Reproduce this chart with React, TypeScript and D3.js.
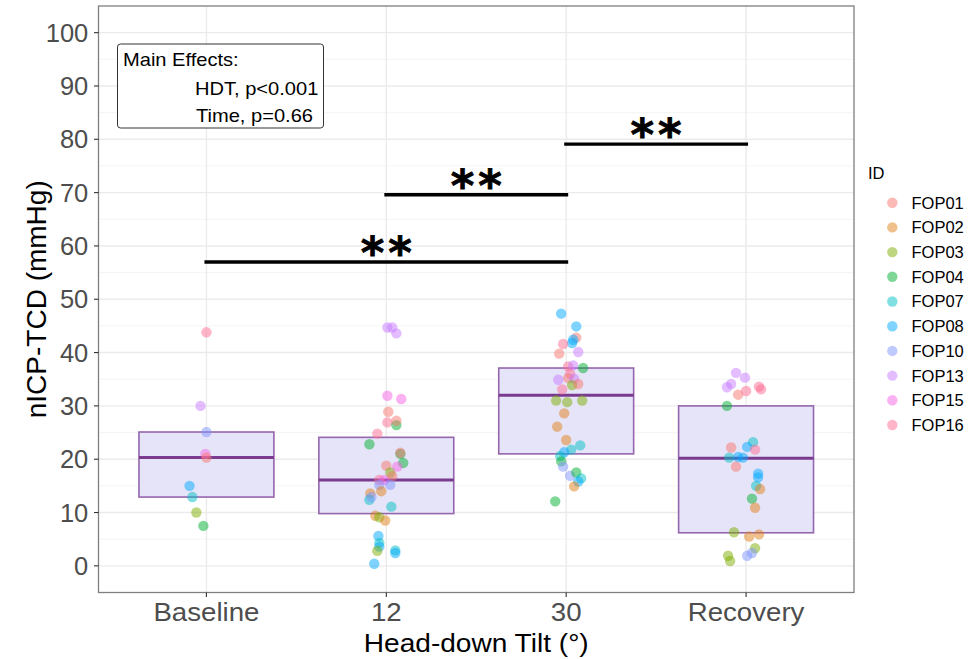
import React from 'react';
import * as d3 from 'd3';

// ---- data ----
const categories = ['Baseline', '12', '30', 'Recovery'];
const subjectIds = ['FOP01', 'FOP02', 'FOP03', 'FOP04', 'FOP07', 'FOP08', 'FOP10', 'FOP13', 'FOP15', 'FOP16'];
const subjectColors = ['#F8766D', '#E0801A', '#7CAE00', '#00B030', '#00BFC4', '#00A9FF', '#7F96FF', '#C77CFF', '#F564E3', '#FF6C91'];

const boxLower = [12.9, 9.8, 21.0, 6.2];
const boxMedian = [20.3, 16.1, 32.0, 20.2];
const boxUpper = [25.1, 24.1, 37.1, 30.0];

const yTicks = [0, 10, 20, 30, 40, 50, 60, 70, 80, 90, 100];

// [id, value, jitter (category units)]
const baselinePoints: [string, number, number][] = [
  ['FOP16', 43.8, 0], ['FOP13', 30.0, -0.033], ['FOP10', 25.1, 0], ['FOP15', 21.0, -0.006],
  ['FOP01', 20.3, 0], ['FOP08', 15.0, -0.094], ['FOP07', 12.9, -0.078], ['FOP03', 10.0, -0.056],
  ['FOP04', 7.5, -0.017],
];
const tilt12Points: [string, number, number][] = [
  ['FOP13', 44.7, 0.006], ['FOP13', 44.7, 0.033], ['FOP13', 43.6, 0.056], ['FOP15', 31.9, 0.006],
  ['FOP15', 31.3, 0.083], ['FOP01', 28.9, 0.011], ['FOP16', 26.9, 0.006], ['FOP04', 26.4, 0.056],
  ['FOP01', 27.2, 0.056], ['FOP16', 24.8, -0.05], ['FOP04', 22.8, -0.094], ['FOP04', 21.0, 0.078],
  ['FOP01', 21.2, 0.078], ['FOP04', 19.3, 0.094], ['FOP01', 18.8, 0], ['FOP03', 17.5, 0.022],
  ['FOP15', 18.6, 0.061], ['FOP01', 16.8, 0.033], ['FOP16', 16.1, -0.039], ['FOP15', 16.1, -0.011],
  ['FOP10', 15.2, -0.039], ['FOP10', 15.2, 0.022], ['FOP02', 13.6, -0.089], ['FOP02', 14.0, -0.028],
  ['FOP07', 12.4, -0.094], ['FOP10', 12.9, -0.083], ['FOP07', 11.1, 0.028], ['FOP02', 9.4, -0.061],
  ['FOP03', 9.1, -0.039], ['FOP02', 8.5, -0.006], ['FOP08', 5.6, -0.044], ['FOP07', 4.3, -0.039],
  ['FOP08', 3.6, -0.039], ['FOP03', 2.8, -0.05], ['FOP07', 2.9, 0.05], ['FOP08', 2.4, 0.05],
  ['FOP08', 0.4, -0.067],
];
const tilt30Points: [string, number, number][] = [
  ['FOP08', 47.3, -0.028], ['FOP08', 44.9, 0.056], ['FOP01', 42.8, 0.056], ['FOP08', 42.4, 0.039],
  ['FOP08', 41.8, 0.033], ['FOP16', 41.6, -0.017], ['FOP01', 39.8, -0.039], ['FOP13', 40.1, 0.067],
  ['FOP16', 37.4, 0.011], ['FOP13', 37.6, 0.039], ['FOP04', 37.1, 0.094], ['FOP16', 36.0, 0.022],
  ['FOP01', 35.2, 0.011], ['FOP13', 34.9, -0.044], ['FOP13', 35.1, 0.044], ['FOP03', 33.9, 0.033],
  ['FOP01', 34.1, 0.067], ['FOP16', 33.1, -0.022], ['FOP03', 31.0, -0.056], ['FOP03', 30.7, 0.006],
  ['FOP03', 31.0, 0.089], ['FOP02', 28.6, -0.011], ['FOP02', 26.1, -0.05], ['FOP02', 23.6, 0],
  ['FOP07', 22.6, 0.078], ['FOP07', 21.8, 0.028], ['FOP08', 21.3, -0.011], ['FOP07', 20.6, -0.033],
  ['FOP04', 19.6, -0.028], ['FOP10', 18.6, -0.017], ['FOP10', 16.9, 0.022], ['FOP04', 17.5, 0.056],
  ['FOP07', 16.4, 0.083], ['FOP08', 15.8, 0.067], ['FOP02', 14.9, 0.044], ['FOP04', 12.1, -0.061],
];
const recoveryPoints: [string, number, number][] = [
  ['FOP13', 36.2, -0.056], ['FOP13', 35.3, -0.006], ['FOP13', 34.1, -0.083], ['FOP13', 33.5, -0.106],
  ['FOP16', 33.6, 0.072], ['FOP16', 33.1, 0.083], ['FOP01', 32.1, -0.044], ['FOP16', 32.8, 0],
  ['FOP04', 30.0, -0.106], ['FOP07', 23.2, 0.039], ['FOP08', 22.3, 0.006], ['FOP01', 22.2, -0.083],
  ['FOP16', 21.8, 0.05], ['FOP07', 20.3, -0.094], ['FOP08', 20.4, -0.044], ['FOP08', 20.3, -0.017],
  ['FOP01', 18.6, -0.056], ['FOP08', 17.3, 0.067], ['FOP08', 16.6, 0.067], ['FOP07', 15.0, 0.056],
  ['FOP02', 14.4, 0.078], ['FOP04', 12.6, 0.033], ['FOP02', 10.9, 0.05], ['FOP03', 6.3, -0.067],
  ['FOP02', 5.5, 0.017], ['FOP02', 5.9, 0.072], ['FOP03', 3.3, 0.05], ['FOP10', 2.4, 0.033],
  ['FOP10', 1.9, 0.006], ['FOP03', 1.9, -0.1], ['FOP03', 0.9, -0.089],
];
const groupPoints = [baselinePoints, tilt12Points, tilt30Points, recoveryPoints];

// significance brackets
const sigStart = ['Baseline', '12', '30'];
const sigEnd = ['30', '30', 'Recovery'];
const sigValue = [57.0, 69.6, 79.1];
const sigLabel = ['**', '**', '**'];

const effectLines = ['Main Effects:', 'HDT, p<0.001', 'Time, p=0.66'];

const W = 969, H = 659;
const panel = { left: 98.5, right: 854, top: 6, bottom: 592.5 };
const FONT = 'Liberation Sans, Arial, sans-serif';
const SX = 1.08; // reference text looks slightly stretched horizontally

export default function App() {
  const x = d3.scaleLinear().domain([0.4, 4.6]).range([panel.left, panel.right]);
  const y = d3.scaleLinear().domain([-5, 105]).range([panel.bottom, panel.top]);
  const color = d3.scaleOrdinal<string, string>().domain(subjectIds).range(subjectColors);
  const catX = (c: string) => x(categories.indexOf(c) + 1);
  const halfBox = 0.375;
  const minorTicks = d3.range(5, 100, 10);

  const stext = (tx: number, ty: number, s = SX) => `translate(${tx},${ty}) scale(${s},1)`;

  return (
    <svg width={W} height={H} style={{ position: 'absolute', left: 0, top: 0, background: '#fff' }}>
      {/* grid */}
      <g>
        {minorTicks.map(t => (
          <line key={'m' + t} x1={panel.left} x2={panel.right} y1={y(t)} y2={y(t)} stroke="#F2F2F2" strokeWidth={0.8} />
        ))}
        {yTicks.map(t => (
          <line key={'g' + t} x1={panel.left} x2={panel.right} y1={y(t)} y2={y(t)} stroke="#EBEBEB" strokeWidth={1.4} />
        ))}
        {categories.map((c, i) => (
          <line key={'v' + c} x1={x(i + 1)} x2={x(i + 1)} y1={panel.top} y2={panel.bottom} stroke="#EBEBEB" strokeWidth={1.4} />
        ))}
      </g>

      {/* boxes */}
      {categories.map((c, i) => (
        <g key={'b' + c}>
          <rect x={x(i + 1 - halfBox)} y={y(boxUpper[i])} width={x(i + 1 + halfBox) - x(i + 1 - halfBox)}
            height={y(boxLower[i]) - y(boxUpper[i])} fill="#E6E4F8" stroke="#9565AD" strokeWidth={1.6} />
          <line x1={x(i + 1 - halfBox)} x2={x(i + 1 + halfBox)} y1={y(boxMedian[i])} y2={y(boxMedian[i])}
            stroke="#7A3A90" strokeWidth={3} />
        </g>
      ))}

      {/* points */}
      {groupPoints.map((pts, gi) => (
        <g key={'p' + gi}>
          {pts.map(([id, v, j], k) => (
            <circle key={k} cx={x(gi + 1 + j)} cy={y(v)} r={5.2} fill={color(id)} fillOpacity={0.5} />
          ))}
        </g>
      ))}

      {/* significance */}
      {sigStart.map((s, i) => {
        const x1 = catX(s) - 2, x2 = catX(sigEnd[i]) + 2;
        return (
          <g key={'s' + i}>
            <line x1={x1} x2={x2} y1={y(sigValue[i])} y2={y(sigValue[i])} stroke="#000" strokeWidth={3.4} />
            <text x={(x1 + x2) / 2 + 2} y={y(sigValue[i]) + 6} textAnchor="middle" fontFamily="DejaVu Sans, sans-serif"
              fontWeight="bold" fontSize={45} letterSpacing={4} stroke="#000" strokeWidth={0.8}>{sigLabel[i]}</text>
          </g>
        );
      })}

      {/* panel border */}
      <rect x={panel.left} y={panel.top} width={panel.right - panel.left} height={panel.bottom - panel.top}
        fill="none" stroke="#7F7F7F" strokeWidth={1.3} />

      {/* main effects box */}
      <rect x={117.5} y={44} width={206} height={84} rx={3} fill="#fff" stroke="#333" strokeWidth={1} />
      <text transform={stext(123, 66)} fontFamily={FONT} fontSize={18.6}>{effectLines[0]}</text>
      <text transform={stext(195, 95)} fontFamily={FONT} fontSize={18.6}>{effectLines[1]}</text>
      <text transform={stext(196, 121.5)} fontFamily={FONT} fontSize={18.6}>{effectLines[2]}</text>

      {/* y axis */}
      {yTicks.map(t => (
        <g key={'yt' + t}>
          <line x1={panel.left - 4.5} x2={panel.left} y1={y(t)} y2={y(t)} stroke="#333" strokeWidth={1.1} />
          <text x={panel.left - 10.2} y={y(t) + 9.2} textAnchor="end" fontFamily={FONT} fontSize={25.5} fill="#4D4D4D">{t}</text>
        </g>
      ))}
      <text transform={`translate(46,${(panel.top + panel.bottom) / 2}) rotate(-90)`} textAnchor="middle"
        fontFamily={FONT} fontSize={28}>nICP-TCD (mmHg)</text>

      {/* x axis */}
      {categories.map((c, i) => (
        <g key={'xt' + c}>
          <line x1={x(i + 1)} x2={x(i + 1)} y1={panel.bottom} y2={panel.bottom + 4.5} stroke="#333" strokeWidth={1.1} />
          <text transform={stext(x(i + 1), 621)} textAnchor="middle" fontFamily={FONT} fontSize={25.6} fill="#4D4D4D">{c}</text>
        </g>
      ))}
      <text transform={stext((panel.left + panel.right) / 2, 651.5)} textAnchor="middle" fontFamily={FONT} fontSize={26}>
        Head-down Tilt (°)
      </text>

      {/* legend */}
      <text x={868} y={178.5} fontFamily={FONT} fontSize={16.5}>ID</text>
      {subjectIds.map((id, i) => (
        <g key={'l' + id} transform={`translate(0,${202.7 + i * 24.7})`}>
          <circle cx={892.3} cy={0} r={5.2} fill={color(id)} fillOpacity={0.5} />
          <text x={911.5} y={5.9} fontFamily={FONT} fontSize={16.5}>{id}</text>
        </g>
      ))}
    </svg>
  );
}
